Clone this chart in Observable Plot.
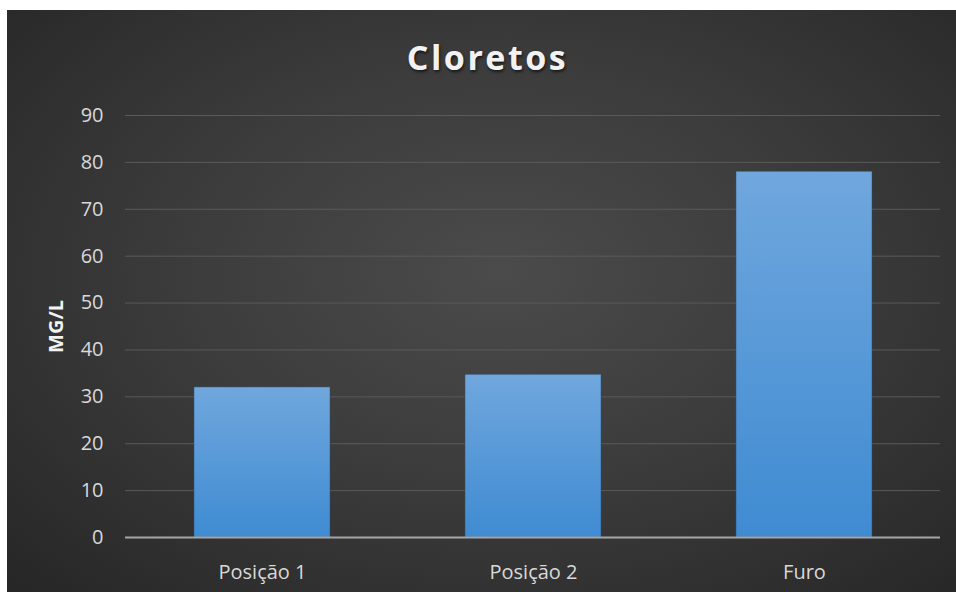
<!DOCTYPE html>
<html>
<head>
<meta charset="utf-8">
<script src="https://cdn.jsdelivr.net/npm/d3@7"></script>
<script src="https://cdn.jsdelivr.net/npm/@observablehq/plot@0.6"></script>
<style>
  html, body { margin: 0; padding: 0; background: #ffffff; }
  #panel {
    position: absolute; left: 7px; top: 10px; width: 949px; height: 582px;
    background: radial-gradient(ellipse at 52% 45%, #4b4b4b 0%, #3c3c3c 45%, #262626 100%);
    overflow: hidden;
  }
  #title {
    position: absolute; left: 6px; top: 30px; width: 949px; text-align: center;
    font-family: "Open Sans", sans-serif; font-weight: 700; font-size: 34px; line-height: 34px;
    letter-spacing: 2.5px; color: #f2f2f2; text-shadow: 1px 2px 3px rgba(0,0,0,0.6);
    z-index: 2;
  }
  #chart { position: absolute; left: 0; top: 0; }
</style>
</head>
<body>
<div id="panel">
  <div id="title">Cloretos</div>
  <div id="chart"></div>
</div>
<script>
const categories = ["Posição 1", "Posição 2", "Furo"];
const values = [32, 34.7, 78];
const yTicks = [0, 10, 20, 30, 40, 50, 60, 70, 80, 90];
const yLabel = "MG/L";

const data = categories.map((c, i) => ({category: c, value: values[i]}));

const chart = Plot.plot({
  width: 949,
  height: 582,
  marginLeft: 118,
  marginRight: 16,
  marginTop: 105,
  marginBottom: 55,
  style: {background: "transparent", fontFamily: "'Open Sans', sans-serif", fontSize: "20px", color: "#d9d9d9"},
  x: {domain: categories, paddingInner: 0.5, paddingOuter: 0.25, label: null, tickSize: 0, tickPadding: 27},
  y: {domain: [0, 90], ticks: yTicks, label: null, tickSize: 0, tickPadding: 22},
  marks: [
    Plot.gridY(yTicks.filter(d => d > 0), {stroke: "#5a5a5a", strokeOpacity: 1, strokeWidth: 1}),
    Plot.barY(data, {x: "category", y: "value", fill: "url(#barGrad)", stroke: "#2f4f70", strokeWidth: 0.8, strokeOpacity: 0.6}),
    Plot.ruleY([0], {stroke: "#a6a6a6", strokeWidth: 2}),
    Plot.text([yLabel], {frameAnchor: "left", textAnchor: "middle", dx: -69, rotate: -90, text: d => d, fill: "#f2f2f2", fontWeight: "bold", fontSize: 20})
  ]
});

const defs = document.createElementNS("http://www.w3.org/2000/svg", "defs");
defs.innerHTML = `<linearGradient id="barGrad" x1="0" y1="0" x2="0" y2="1">
  <stop offset="0%" stop-color="#70a7dd"/>
  <stop offset="100%" stop-color="#3f8bd2"/>
</linearGradient>`;
chart.insertBefore(defs, chart.firstChild);
document.getElementById("chart").appendChild(chart);
</script>
</body>
</html>
